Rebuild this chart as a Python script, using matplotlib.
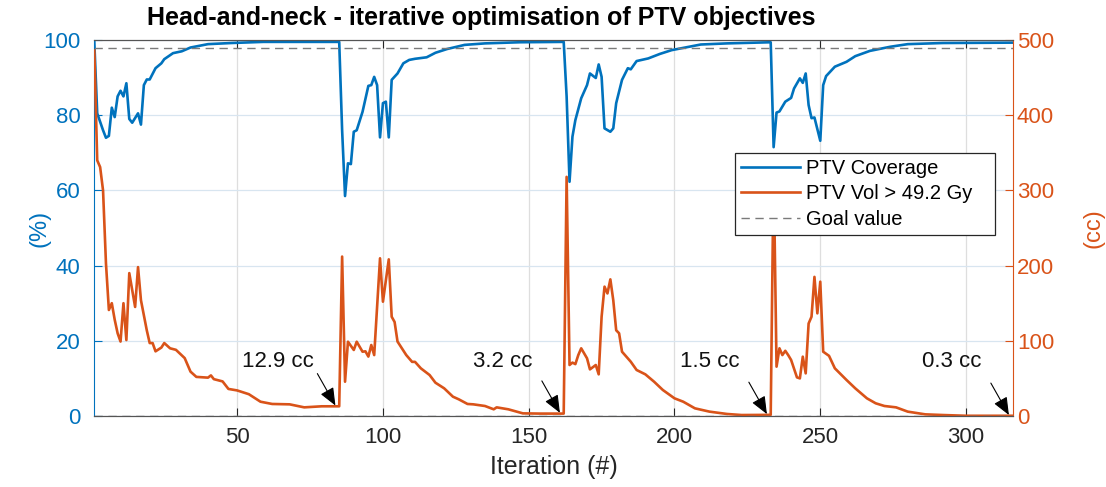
import matplotlib
matplotlib.use('Agg')
import matplotlib.pyplot as plt

# MATLAB-like colours
BLUE = '#0072BD'
ORANGE = '#D95319'

# PTV coverage (%): iteration, value
cov_iter = [1, 2, 4, 5, 6, 7, 8, 9, 10, 11, 12, 13, 14, 16, 17, 18, 19, 20, 22, 24,
            25, 28, 31, 34, 40, 48, 59, 85,
            86, 87, 88, 89, 90, 91, 93, 95, 96, 97, 98, 99, 100, 101, 102, 103, 105,
            107, 109, 111, 115, 118, 122, 128, 135, 147, 162,
            163, 164, 165, 166, 168, 170, 171, 173, 174, 175, 176, 178, 179, 180, 182,
            184, 185, 187, 191, 195, 199, 209, 218, 233,
            234, 235, 236, 238, 240, 241, 243, 244, 245, 246, 247, 248, 250, 251, 252,
            255, 259, 262, 267, 274, 280, 292, 316]
coverage = [99.5, 80.5, 76, 74, 74.5, 82, 79.5, 85, 86.5, 85, 88.5, 79, 78, 80.5, 77.5, 88, 89.5, 89.5, 92.5, 93.8,
            94.9, 96.5, 97, 98, 98.9, 99.2, 99.5, 99.5,
            76, 58.5, 67.2, 67, 75.6, 76, 80.9, 87.8, 88, 90.2, 88, 74.1, 83.2, 83.6, 74.1, 89.4, 91.1,
            93.8, 94.7, 95, 95.4, 96.6, 97.6, 98.7, 99.1, 99.4, 99.5,
            85, 62.3, 74.3, 78.7, 84.5, 88, 91.1, 89.9, 93.5, 90.2, 76.5, 75.6, 76.5, 83.2, 89.4,
            92.5, 92.2, 94.4, 95.1, 96.3, 97.3, 98.8, 99.1, 99.4,
            71.5, 80.7, 81, 83.6, 84.6, 87.1, 89.8, 88.6, 91.1, 82.7, 79.2, 79.4, 73.2, 88, 90.4,
            92.9, 94.2, 95.7, 97.1, 98.2, 98.9, 99.2, 99.3]

# PTV volume above 49.2 Gy (cc)
vol_iter = [1, 2, 3, 4, 5, 6, 7, 8, 9, 10, 11, 12, 13, 15, 16, 17, 19, 20, 21, 22,
            24, 25, 27, 29, 32, 34, 36, 40, 41, 42, 45, 47, 50, 54, 58, 62, 68, 73, 79, 85,
            86, 87, 88, 90, 91, 93, 94, 95, 96, 97, 99, 100, 102, 103, 104, 105, 108, 110,
            111, 113, 116, 118, 121, 124, 126, 129, 131, 135, 138, 139, 143, 148, 154, 162,
            163, 164, 165, 166, 167, 168, 170, 171, 173, 174, 175, 176, 177, 178, 179, 180,
            181, 182, 185, 187, 190, 193, 196, 200, 203, 207, 212, 218, 223, 233,
            234, 235, 236, 237, 238, 239, 240, 242, 243, 244, 245, 246, 247, 248, 249, 250,
            251, 253, 255, 259, 262, 266, 269, 272, 276, 280, 286, 292, 300, 316]
volume = [486, 340, 331, 300, 203, 141, 150, 128, 110, 99, 150, 101, 190, 145, 198, 154, 114, 97, 97, 86,
          91, 97, 90, 88, 77, 59, 52, 51, 54, 49, 46, 36, 34, 29, 19, 16, 15.5, 11.5, 12.9, 12.9,
          212, 45.6, 98.8, 87.8, 98.8, 85.5, 86, 79, 94.4, 81, 209.7, 152, 208.3, 132, 125, 99, 81, 72,
          72, 63.4, 54.5, 44.3, 36.8, 25.7, 22.2, 16, 15.5, 13.3, 8.9, 11.5, 8.9, 3.5, 3.2, 3.2,
          318, 67.8, 71, 69, 81, 90, 76.7, 62, 67.8, 55.4, 132, 172, 163, 181.7, 154, 114,
          110, 85.5, 72.2, 61.2, 55.4, 45.6, 34.6, 23.5, 19, 10.2, 5.8, 2.7, 1.3, 1.5,
          330, 65.6, 90, 81, 86.7, 81, 74.5, 51.4, 50, 78.9, 56.7, 123, 132, 185, 136.5, 178.6,
          85.5, 80, 63.4, 47.9, 36.8, 23.5, 16.9, 13.3, 11.5, 5.8, 2.2, 1.3, 0.3, 0.3]

goal_cov = 98
goal_vol = 0

# final volume of each optimisation run
end_iter = [85, 162, 233, 316]
end_vol = [12.9, 3.2, 1.5, 0.3]
end_text = ['12.9 cc', '3.2 cc', '1.5 cc', '0.3 cc']

plt.rcParams['font.family'] = ['Liberation Sans', 'DejaVu Sans']

fig = plt.figure(figsize=(11.06, 4.87), dpi=100)
ax = fig.add_axes([94.3 / 1106, 1 - 416 / 487, 918.4 / 1106, 376 / 487])
ax2 = ax.twinx()

l1, = ax.plot(cov_iter, coverage, color=BLUE, lw=1.9, label='PTV Coverage')
l3, = ax.plot([1, 316], [goal_cov, goal_cov], color='#7a7a7a', lw=1.0,
              dashes=(6, 4), label='Goal value')
l2, = ax2.plot(vol_iter, volume, color=ORANGE, lw=1.9, label='PTV Vol > 49.2 Gy')
ax2.plot([1, 316], [goal_vol, goal_vol], color='#7a7a7a', lw=1.0, dashes=(6, 4))

ax.set_xlim(1, 316)
ax.set_ylim(0, 100)
ax2.set_ylim(0, 500)
ax.set_xticks([50, 100, 150, 200, 250, 300])
ax.set_yticks([0, 20, 40, 60, 80, 100])
ax2.set_yticks([0, 100, 200, 300, 400, 500])

# grid like MATLAB
ax.grid(True, axis='x', color='#dedede', lw=0.9)
ax.grid(True, axis='y', color='#d8e5f0', lw=0.9)
ax.set_axisbelow(True)

ax.tick_params(axis='x', direction='in', length=6, top=True, colors='#262626',
               labelsize=16, pad=8)
ax.tick_params(axis='y', direction='in', length=6, colors=BLUE, labelsize=16, pad=10)
ax2.tick_params(axis='y', direction='in', length=6, colors=ORANGE, labelsize=16, pad=3)

for a in (ax, ax2):
    a.spines['top'].set_color('#555555')
    a.spines['bottom'].set_color('#555555')
ax.spines['left'].set_color(BLUE)
ax2.spines['left'].set_visible(False)
ax.spines['right'].set_visible(False)
ax2.spines['right'].set_color(ORANGE)

ax.set_ylabel('(%)', color=BLUE, fontsize=17)
ax.yaxis.set_label_coords(-0.048, 0.5)
ax2.set_ylabel('(cc)', color=ORANGE, fontsize=17)
ax2.yaxis.set_label_coords(1.0755, 0.5)
ax.set_xlabel('Iteration (#)', color='#262626', fontsize=18, labelpad=5)

fig.text(481 / 1106, 1 - 18 / 487, 'Head-and-neck - iterative optimisation of PTV objectives',
         ha='center', va='center', fontsize=18, fontweight='bold')

# arrows pointing at the final volume of each run
for it, v, t in zip(end_iter, end_vol, end_text):
    ax2.annotate('', xy=(it - 1.3, v + 1), xytext=(-13, 23), textcoords='offset points',
                 arrowprops=dict(arrowstyle='-|>,head_length=0.6,head_width=0.25',
                                 color='k', lw=0.8, shrinkA=0, shrinkB=0,
                                 mutation_scale=18))
    ax2.text(it - 21, 72, t, ha='center', va='center', fontsize=16, color='#111111')

leg = ax2.legend(handles=[l1, l2, l3], loc='upper left',
                 labels=['PTV Coverage', 'PTV Vol > 49.2 Gy   ', 'Goal value'],
                 bbox_to_anchor=(0.698, 0.70), fontsize=14.5, frameon=True,
                 fancybox=False, edgecolor='#262626', framealpha=1,
                 handlelength=2.9, borderpad=0.3, labelspacing=0.32,
                 handletextpad=0.3, borderaxespad=0)
leg.get_frame().set_linewidth(0.9)

fig.savefig('out.png', dpi=100)
